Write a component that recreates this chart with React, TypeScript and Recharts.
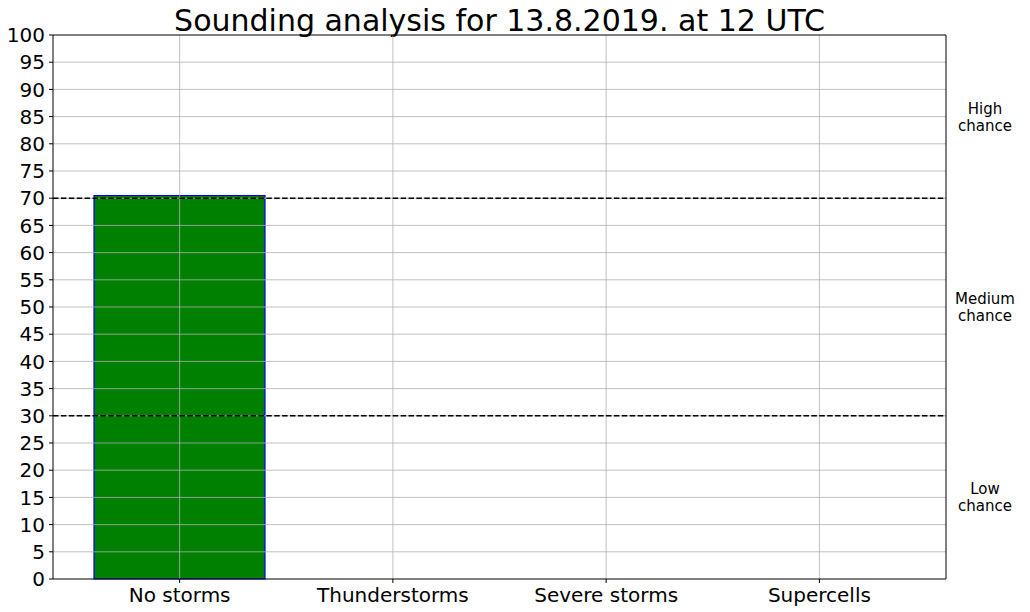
import React from 'react';
import { BarChart, Bar, XAxis, YAxis, ReferenceLine } from 'recharts';

const categories = ['No storms', 'Thunderstorms', 'Severe storms', 'Supercells'];
const probabilities = [70.5, 0, 0, 0];
const yTicks = [0, 5, 10, 15, 20, 25, 30, 35, 40, 45, 50, 55, 60, 65, 70, 75, 80, 85, 90, 95, 100];
const thresholds = [30, 70];
const chanceLabels = [
  { value: 85, lines: ['High', 'chance'] },
  { value: 50, lines: ['Medium', 'chance'] },
  { value: 15, lines: ['Low', 'chance'] },
];
const title = 'Sounding analysis for 13.8.2019. at 12 UTC';

const data = categories.map((c, i) => ({ name: c, value: probabilities[i] }));

const FONT = '"DejaVu Sans", sans-serif';

const SideLabel = (lines: string[]) => (props: any) => {
  const vb = props.viewBox || {};
  const cx = vb.x + vb.width + 39;
  const cy = vb.y;
  return (
    <text x={cx} y={cy} textAnchor="middle" fontFamily={FONT} fontSize={15} fill="#000">
      <tspan x={cx} dy={-3}>{lines[0]}</tspan>
      <tspan x={cx} dy={17}>{lines[1]}</tspan>
    </text>
  );
};

export default function App() {
  return (
    <div style={{ position: 'absolute', left: 0, top: 0, width: 1030, height: 612, background: '#fff' }}>
      <div
        style={{
          position: 'absolute',
          left: 53,
          width: 893,
          top: 3,
          textAlign: 'center',
          fontFamily: FONT,
          fontSize: 30,
          lineHeight: '36px',
          color: '#000',
        }}
      >
        {title}
      </div>
      <BarChart
        width={1030}
        height={612}
        data={data}
        margin={{ top: 35, right: 83, bottom: 0, left: 0 }}
        barCategoryGap={0}
      >
        <XAxis
          dataKey="name"
          xAxisId="bottom"
          height={33}
          padding={{ left: 20, right: 20 }}
          tickSize={4}
          tickMargin={5}
          tick={{ fontFamily: FONT, fontSize: 20, fill: '#000' }}
          axisLine={{ stroke: '#000', strokeWidth: 1 }}
          tickLine={{ stroke: '#000' }}
          interval={0}
        />
        <YAxis
          yAxisId="left"
          width={53}
          domain={[0, 100]}
          ticks={yTicks}
          interval={0}
          type="number"
          tickSize={4}
          tickMargin={4}
          tick={{ fontFamily: FONT, fontSize: 20, fill: '#000' }}
          axisLine={{ stroke: '#000', strokeWidth: 1 }}
          tickLine={{ stroke: '#000' }}
        />
        <YAxis yAxisId="right" orientation="right" width={1} domain={[0, 100]} tick={false} tickLine={false}
          axisLine={{ stroke: '#000', strokeWidth: 1 }} />
        <Bar
          dataKey="value"
          xAxisId="bottom"
          yAxisId="left"
          fill="#008000"
          stroke="#0000ff"
          strokeWidth={1.2}
          barSize={171}
          isAnimationActive={false}
        />
        {yTicks.filter((t) => t > 0 && t < 100).map((t) => (
          <ReferenceLine key={'h' + t} xAxisId="bottom" yAxisId="left" y={t} stroke="#b0b0b0" strokeWidth={0.8} />
        ))}
        {categories.map((c) => (
          <ReferenceLine key={'v' + c} xAxisId="bottom" yAxisId="left" x={c} stroke="#b0b0b0" strokeWidth={0.8} />
        ))}
        <ReferenceLine xAxisId="bottom" yAxisId="left" y={100} stroke="#000" strokeWidth={1} />
        {thresholds.map((t) => (
          <ReferenceLine key={t} xAxisId="bottom" yAxisId="left" y={t} stroke="#000" strokeWidth={1.5} strokeDasharray="5.5 2.4" />
        ))}
        {chanceLabels.map((c) => (
          <ReferenceLine key={c.value} xAxisId="bottom" yAxisId="left" y={c.value} stroke="none" label={SideLabel(c.lines)} />
        ))}
      </BarChart>
    </div>
  );
}
